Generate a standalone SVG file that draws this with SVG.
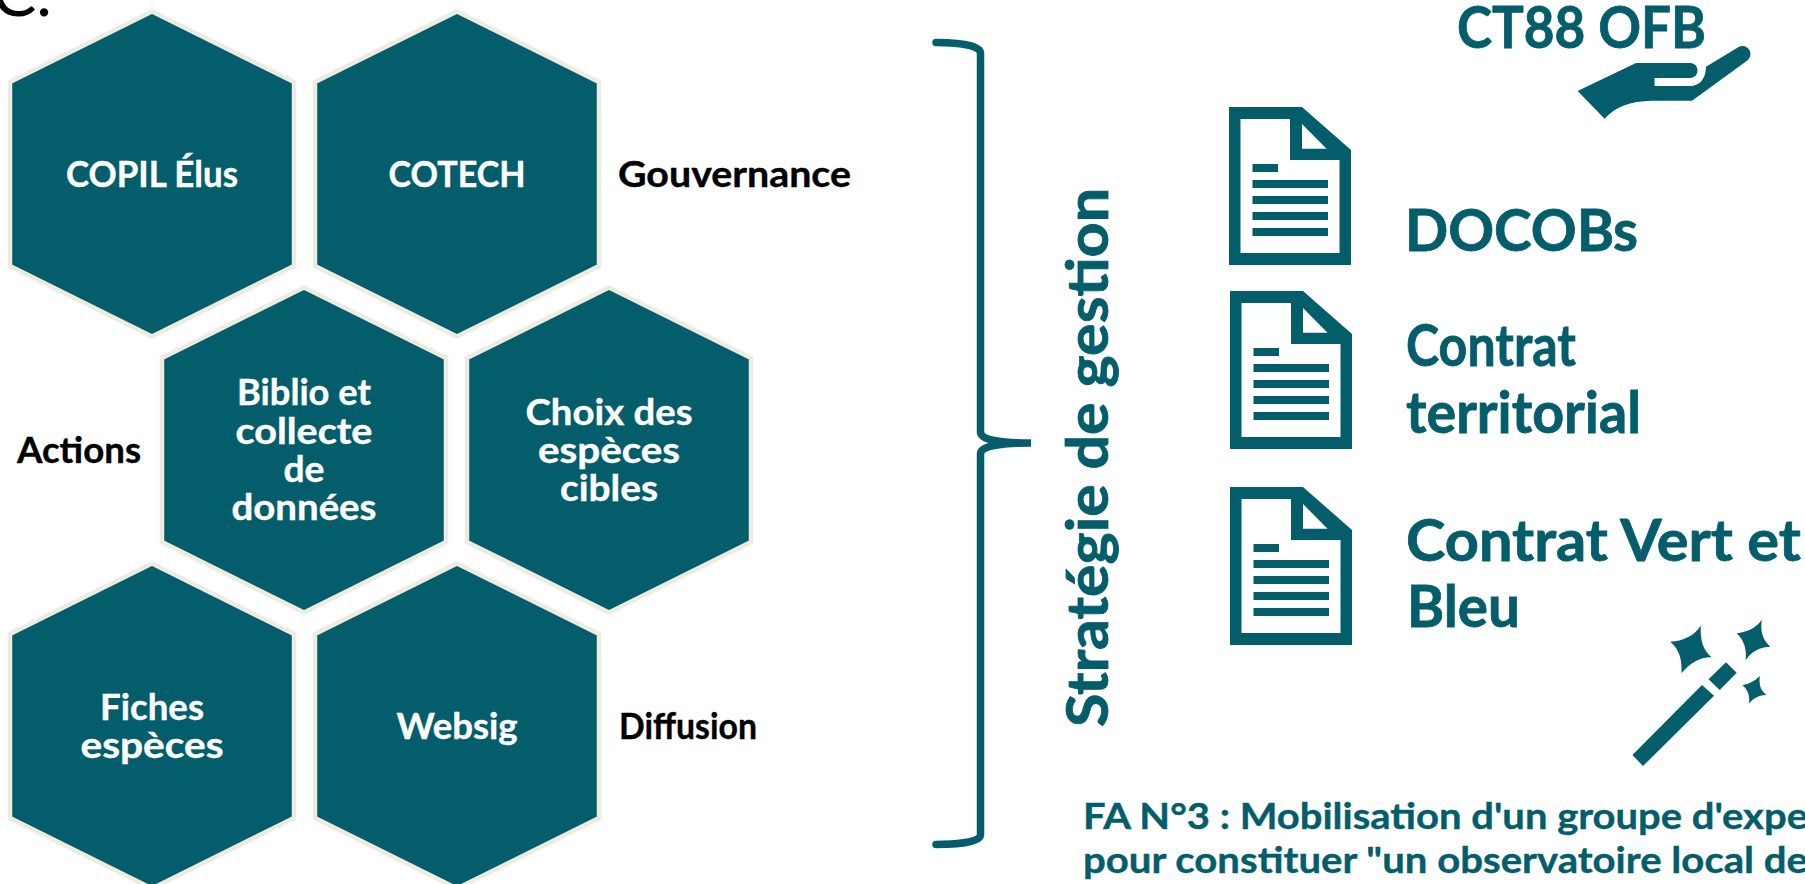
<svg xmlns="http://www.w3.org/2000/svg" width="1805" height="884" viewBox="0 0 1805 884">
<style>
text{font-family:"Lato","Liberation Sans",sans-serif;font-weight:700;}
.h{fill:#045D6A;stroke:#EEEBE0;stroke-width:4.5;}
.w{fill:#fff;font-size:36px;text-anchor:middle;stroke:#fff;stroke-width:0.4px;}
.b{fill:#000;font-size:36px;stroke:#000;stroke-width:0.4px;}
.t{fill:#045D6A;stroke:#045D6A;stroke-width:0.8px;}
.f{fill:#045D6A;}
.big{font-size:58px;}
.small{font-size:36px;stroke-width:0.4px;}
</style>
<defs>
<polygon id="hex" points="0,-162.500 142,-92 142,92 0,162.500 -142,92 -142,-92" class="h"/>
<g id="doc">
<path class="f" fill-rule="evenodd" d="M0 0H73L122 43V158H0ZM11.500 12V146H110.500V53H61V12ZM73 17L97.600 41.700H73Z"/>
<rect class="f" x="23.500" y="57" width="25.500" height="8"/>
<rect class="f" x="23.500" y="73" width="75.500" height="8"/>
<rect class="f" x="23.500" y="89" width="75.500" height="8"/>
<rect class="f" x="23.500" y="105" width="75.500" height="8"/>
<rect class="f" x="23.500" y="121" width="75.500" height="8"/>
</g>
</defs>
<rect width="1805" height="884" fill="#fff"/>
<text x="-8" y="16" style="font-family:'Lato',sans-serif;font-weight:400;font-size:66px;fill:#000" textLength="60" lengthAdjust="spacingAndGlyphs">C.</text>

<g id="node-copil"><use href="#hex" x="152" y="174"/><text class="w" x="152" y="187" textLength="172" lengthAdjust="spacingAndGlyphs">COPIL Élus</text></g>
<g id="node-cotech"><use href="#hex" x="457" y="174"/><text class="w" x="457" y="187" textLength="137" lengthAdjust="spacingAndGlyphs">COTECH</text></g>
<g id="node-biblio"><use href="#hex" x="304" y="450"/>
<text class="w" x="304" y="405" textLength="134" lengthAdjust="spacingAndGlyphs">Biblio et</text>
<text class="w" x="304" y="444" textLength="137" lengthAdjust="spacingAndGlyphs">collecte</text>
<text class="w" x="304" y="482" textLength="41" lengthAdjust="spacingAndGlyphs">de</text>
<text class="w" x="304" y="520" textLength="145" lengthAdjust="spacingAndGlyphs">données</text></g>
<g id="node-choix"><use href="#hex" x="609" y="450"/>
<text class="w" x="609" y="425" textLength="167" lengthAdjust="spacingAndGlyphs">Choix des</text>
<text class="w" x="609" y="463" textLength="142" lengthAdjust="spacingAndGlyphs">espèces</text>
<text class="w" x="609" y="501" textLength="98" lengthAdjust="spacingAndGlyphs">cibles</text></g>
<g id="node-fiches"><use href="#hex" x="152" y="726"/>
<text class="w" x="152" y="720" textLength="104" lengthAdjust="spacingAndGlyphs">Fiches</text>
<text class="w" x="152" y="758" textLength="143" lengthAdjust="spacingAndGlyphs">espèces</text></g>
<g id="node-websig"><use href="#hex" x="457" y="726"/><text class="w" x="457" y="739" textLength="121" lengthAdjust="spacingAndGlyphs">Websig</text></g>

<g id="label-gouvernance"><text class="b" x="618" y="187" textLength="233" lengthAdjust="spacingAndGlyphs">Gouvernance</text></g>
<g id="label-actions"><text class="b" x="17" y="463" textLength="124" lengthAdjust="spacingAndGlyphs">Actions</text></g>
<g id="label-diffusion"><text class="b" x="619" y="739" textLength="138" lengthAdjust="spacingAndGlyphs">Diffusion</text></g>

<g id="connectors">
<path d="M936 42.500C950 42.500 980.500 44 980.500 53V432C980.500 440 1000 443 1031 443C1000 443 980.500 446 980.500 454V835C980.500 843 950 844.500 936 844.500" fill="none" stroke="#045D6A" stroke-width="7.500" stroke-linecap="round"/>
</g>

<g id="label-strategie"><text class="t big" transform="translate(1108 727) rotate(-90)" textLength="539" lengthAdjust="spacingAndGlyphs">Stratégie de gestion</text></g>

<g id="node-ct88">
<text class="t big" x="1457" y="48" textLength="249" lengthAdjust="spacingAndGlyphs">CT88 OFB</text>
<path class="f" d="M1577.600 91L1636 63H1690C1700 63 1700 78 1690 78H1654.500V86H1690C1700 86 1706 78 1706 66.700L1738.600 47C1746 43 1755 52 1748 60L1692 100.700H1652C1630 101 1615 107 1604.600 118.700Z"/>
</g>
<g id="node-docobs"><use href="#doc" x="1229" y="107"/><text class="t big" x="1405" y="251" textLength="233" lengthAdjust="spacingAndGlyphs">DOCOBs</text></g>
<g id="node-contrat-territorial"><use href="#doc" x="1230" y="291"/>
<text class="t big" x="1406" y="366" textLength="170" lengthAdjust="spacingAndGlyphs">Contrat</text>
<text class="t big" x="1406" y="433" textLength="235" lengthAdjust="spacingAndGlyphs">territorial</text></g>
<g id="node-contrat-vert"><use href="#doc" x="1230" y="487"/>
<text class="t big" x="1406" y="561" textLength="395" lengthAdjust="spacingAndGlyphs">Contrat Vert et</text>
<text class="t big" x="1407" y="627" textLength="113" lengthAdjust="spacingAndGlyphs">Bleu</text></g>

<g id="icon-wand">
<polygon class="f" points="1702,685 1714,695.700 1643,766 1632.400,755"/>
<polygon class="f" points="1726,662.300 1736.700,672.700 1719.700,690 1708.500,679.300"/>
<path class="f" d="M1700.800 625.700C1700 640 1703 650 1711.600 657.300C1700 657 1690 663 1681.500 673.300C1682 660 1680 650 1670.300 641.700C1683 641 1694 636 1700.800 625.700Z"/>
<path class="f" d="M1761.800 620C1760 632 1763 640 1770.300 646.700C1760 647 1752 651 1745.600 660C1747 650 1744 640 1736.700 633.300C1747 632 1756 628 1761.800 620Z"/>
<path class="f" d="M1759.800 676C1759 684 1760 690 1766.400 695C1759 695 1754 698 1749 703.300C1750 696 1748 690 1742.500 685C1749 684 1755 681 1759.800 676Z"/>
</g>

<g id="label-fa">
<text class="t small" x="1083" y="829" textLength="725" lengthAdjust="spacingAndGlyphs">FA N°3 : Mobilisation d'un groupe d'expe</text>
<text class="t small" x="1083" y="873" textLength="725" lengthAdjust="spacingAndGlyphs">pour constituer "un observatoire local de</text>
</g>
</svg>
